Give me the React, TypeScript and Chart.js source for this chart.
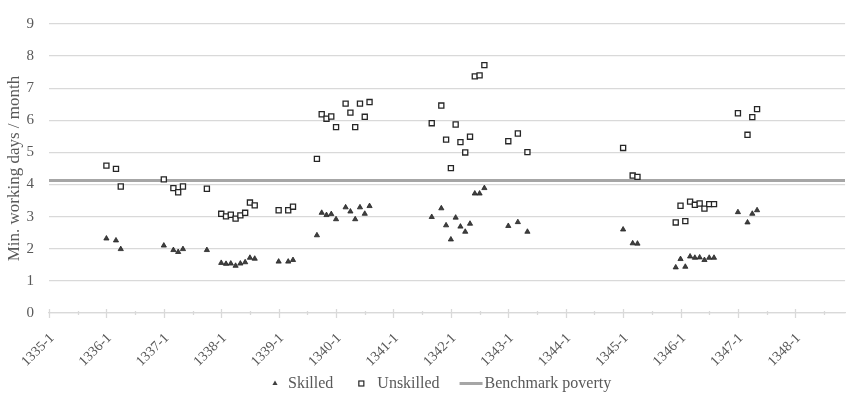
import { useEffect, useRef } from 'react';
import { Chart, registerables } from 'chart.js';

Chart.register(...registerables);

const FONT = "'Liberation Serif', 'DejaVu Serif', serif";
const TEXT_COLOR = '#595959';
const GRID_COLOR = '#d9d9d9';

// Axis labels (year ticks, each labelled "YYYY-1")
const yearTicks = [1335, 1336, 1337, 1338, 1339, 1340, 1341, 1342, 1343, 1344, 1345, 1346, 1347, 1348];
const axisStartYear = 1335;
const axisEndMonths = 166.4; // months after 1335-1 where the axis ends

// Observation periods (year-month)
const periods = [
  '1336-1', '1336-3', '1336-4',
  '1337-1', '1337-3', '1337-4', '1337-5', '1337-10',
  '1338-1', '1338-2', '1338-3', '1338-4', '1338-5', '1338-6', '1338-7', '1338-8',
  '1339-1', '1339-3', '1339-4',
  '1339-9', '1339-10', '1339-11', '1339-12', '1340-1', '1340-3', '1340-4', '1340-5', '1340-6', '1340-7', '1340-8',
  '1341-9', '1341-11', '1341-12', '1342-1', '1342-2', '1342-3', '1342-4', '1342-5', '1342-6', '1342-7', '1342-8',
  '1343-1', '1343-3', '1343-5',
  '1345-1', '1345-3', '1345-4',
  '1345-12', '1346-1', '1346-2', '1346-3', '1346-4', '1346-5', '1346-6', '1346-7', '1346-8',
  '1347-1', '1347-3', '1347-4', '1347-5',
];

const skilled = [
  2.32, 2.26, 1.99,
  2.10, 1.96, 1.90, 1.99, 1.96,
  1.56, 1.53, 1.54, 1.47, 1.54, 1.58, 1.72, 1.69,
  1.60, 1.60, 1.65,
  2.42, 3.12, 3.05, 3.08, 2.92, 3.29, 3.16, 2.92, 3.29, 3.09, 3.33,
  2.99, 3.26, 2.73, 2.29, 2.97, 2.69, 2.53, 2.78, 3.72, 3.72, 3.89,
  2.71, 2.83, 2.53,
  2.60, 2.17, 2.16,
  1.42, 1.68, 1.44, 1.76, 1.72, 1.73, 1.65, 1.72, 1.72,
  3.14, 2.82, 3.09, 3.20,
];

const unskilled = [
  4.59, 4.49, 3.94,
  4.16, 3.89, 3.76, 3.94, 3.87,
  3.09, 3.01, 3.06, 2.94, 3.04, 3.12, 3.44, 3.35,
  3.20, 3.20, 3.31,
  4.80, 6.19, 6.05, 6.12, 5.79, 6.52, 6.24, 5.79, 6.52, 6.11, 6.57,
  5.91, 6.46, 5.40, 4.51, 5.87, 5.32, 5.00, 5.49, 7.37, 7.40, 7.72,
  5.35, 5.59, 5.01,
  5.14, 4.28, 4.24,
  2.82, 3.34, 2.86, 3.47, 3.37, 3.41, 3.25, 3.39, 3.39,
  6.22, 5.55, 6.10, 6.35,
];

const benchmarkPoverty = 4.13;

const seriesNames = ['Skilled', 'Unskilled', 'Benchmark poverty'];

function periodToMonths(p: string): number {
  const [y, m] = p.split('-').map(Number);
  return (y - axisStartYear) * 12 + (m - 1);
}

const xTickMarksPlugin = {
  id: 'xTickMarks',
  afterDraw(chart: any) {
    const xs = chart.scales.x;
    const { ctx, chartArea } = chart;
    const y0 = chartArea.bottom;
    ctx.save();
    ctx.strokeStyle = GRID_COLOR;
    ctx.lineWidth = 1.3;
    for (let m = 0; m <= axisEndMonths; m += 6) {
      const px = Math.round(xs.getPixelForValue(m)) + 0.5;
      const major = m % 12 === 0;
      ctx.beginPath();
      ctx.moveTo(px, y0 - (major ? 4 : 2));
      ctx.lineTo(px, y0 + (major ? 5 : 2));
      ctx.stroke();
    }
    ctx.restore();
  },
};

const legendPlugin = {
  id: 'customLegend',
  afterDraw(chart: any) {
    const { ctx } = chart;
    ctx.save();
    ctx.font = `16px ${FONT}`;
    ctx.textBaseline = 'middle';
    ctx.fillStyle = TEXT_COLOR;
    const y = chart.height - 18.5;
    const w = seriesNames.map((n) => ctx.measureText(n).width);
    let x = 271;
    // Skilled: triangle
    const tcx = x + 4;
    ctx.beginPath();
    ctx.moveTo(tcx, y - 3);
    ctx.lineTo(tcx + 2.6, y + 1.6);
    ctx.lineTo(tcx - 2.6, y + 1.6);
    ctx.closePath();
    ctx.fillStyle = '#404040';
    ctx.fill();
    ctx.fillStyle = TEXT_COLOR;
    ctx.fillText(seriesNames[0], tcx + 13, y);
    x = tcx + 13 + w[0];
    // Unskilled: square
    const scx = x + 28;
    ctx.strokeStyle = '#262626';
    ctx.lineWidth = 1.2;
    ctx.fillStyle = '#ffffff';
    ctx.fillRect(scx - 2.5, y - 2.5, 5, 5);
    ctx.strokeRect(scx - 2.5, y - 2.5, 5, 5);
    ctx.fillStyle = TEXT_COLOR;
    ctx.fillText(seriesNames[1], scx + 16, y);
    x = scx + 16 + w[1];
    // Benchmark: line
    const lx = x + 20;
    ctx.strokeStyle = '#a6a6a6';
    ctx.lineWidth = 3;
    ctx.beginPath();
    ctx.moveTo(lx, y);
    ctx.lineTo(lx + 23, y);
    ctx.stroke();
    ctx.fillText(seriesNames[2], lx + 25, y);
    ctx.restore();
  },
};

export default function App() {
  const canvasRef = useRef<HTMLCanvasElement | null>(null);

  useEffect(() => {
    document.body.style.margin = '0';
    const canvas = canvasRef.current;
    if (!canvas) return;
    const xs = periods.map(periodToMonths);

    const chart = new Chart(canvas, {
      type: 'scatter',
      data: {
        datasets: [
          {
            label: seriesNames[0],
            data: xs.map((x, i) => ({ x, y: skilled[i] })),
            pointStyle: 'triangle',
            pointRadius: 3,
            pointHoverRadius: 3,
            backgroundColor: '#404040',
            borderColor: '#262626',
            borderWidth: 0.8,
            order: 0,
          },
          {
            label: seriesNames[1],
            data: xs.map((x, i) => ({ x, y: unskilled[i] })),
            pointStyle: 'rect',
            pointRadius: 3.6,
            pointHoverRadius: 3.6,
            backgroundColor: '#ffffff',
            borderColor: '#262626',
            borderWidth: 1.3,
            order: 1,
          },
          {
            label: seriesNames[2],
            type: 'line',
            data: [
              { x: 0, y: benchmarkPoverty },
              { x: axisEndMonths, y: benchmarkPoverty },
            ],
            borderColor: '#a6a6a6',
            borderWidth: 3,
            pointRadius: 0,
            showLine: true,
            fill: false,
            order: 2,
          } as any,
        ],
      },
      options: {
        responsive: false,
        animation: false,
        events: [],
        layout: { padding: { top: 13, right: 0, bottom: 0, left: 0 } },
        plugins: {
          legend: { display: false },
          tooltip: { enabled: false },
        },
        scales: {
          x: {
            type: 'linear',
            min: 0,
            max: axisEndMonths,
            afterBuildTicks: (scale: any) => {
              scale.ticks = yearTicks.map((y) => ({ value: (y - axisStartYear) * 12 }));
            },
            afterFit: (scale: any) => {
              scale.height = 89;
            },
            ticks: {
              autoSkip: false,
              maxRotation: 45,
              minRotation: 45,
              padding: 17,
              labelOffset: 3,
              color: TEXT_COLOR,
              font: { family: FONT, size: 14 },
              callback: (v: any) => `${axisStartYear + Math.round(Number(v) / 12)}-1`,
            },
            grid: { display: true, drawOnChartArea: false, drawTicks: false },
            border: { display: true, color: GRID_COLOR, width: 1.3 },
          },
          y: {
            min: 0,
            max: 9,
            afterFit: (scale: any) => {
              scale.width = 49;
            },
            ticks: {
              stepSize: 1,
              padding: 15,
              color: TEXT_COLOR,
              font: { family: FONT, size: 15 },
            },
            grid: { color: GRID_COLOR, lineWidth: 1.3, drawTicks: false },
            border: { display: false },
            title: {
              display: true,
              text: 'Min. working days / month',
              color: TEXT_COLOR,
              font: { family: FONT, size: 17 },
              padding: { top: 4, bottom: 0 },
            },
          },
        },
      },
      plugins: [xTickMarksPlugin, legendPlugin],
    });

    return () => chart.destroy();
  }, []);

  return (
    <div style={{ width: 850, height: 402 }}>
      <canvas ref={canvasRef} width={850} height={402} />
    </div>
  );
}
